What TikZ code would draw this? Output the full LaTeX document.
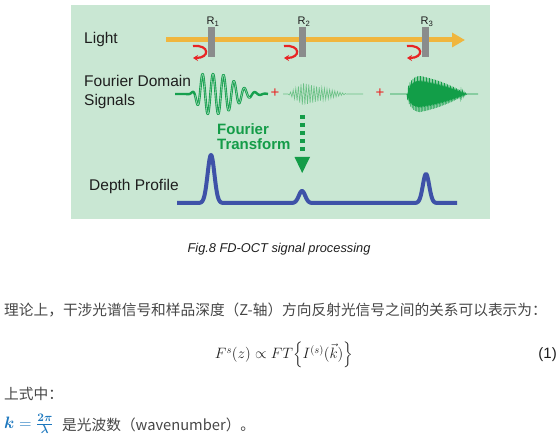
\RequirePackage{fix-cm}
\documentclass[tikz,border=0pt]{standalone}
\usepackage{amsmath}
\usepackage{bm}
\usepackage[no-math]{fontspec}
\setmainfont{Liberation Sans}
\newfontfamily\cjk{Noto Sans CJK SC}
\usetikzlibrary{arrows.meta}
\definecolor{bgmint}{RGB}{201,231,211}
\definecolor{lightorange}{RGB}{240,182,62}
\definecolor{bargray}{RGB}{138,140,140}
\definecolor{curlred}{RGB}{232,36,36}
\definecolor{wavegreen}{RGB}{22,160,78}
\definecolor{wavelight}{RGB}{105,192,132}
\definecolor{wavedark}{RGB}{18,158,72}
\definecolor{ftgreen}{RGB}{20,156,72}
\definecolor{depthblue}{RGB}{62,82,168}
\definecolor{kblue}{RGB}{30,120,190}
\definecolor{txt}{RGB}{30,30,30}
\definecolor{cjktxt}{RGB}{70,70,70}
\tikzset{
  lab/.style={font=\fontsize{15.5bp}{18bp}\selectfont, text=txt, inner sep=0pt},
  rlab/.style={font=\fontsize{11bp}{13bp}\selectfont, text=txt, inner sep=0pt},
  ftlab/.style={font=\fontsize{15bp}{18bp}\selectfont\bfseries, text=ftgreen, inner sep=0pt},
  barbox/.style={fill=bargray, draw=none, minimum width=7bp, minimum height=30bp, inner sep=0pt},
  curl/.style={draw=curlred, line width=2.2bp, -{Stealth[length=5bp,width=6bp]}},
  lightray/.style={draw=lightorange, line width=5bp, -{Triangle[length=13bp,width=14bp]}},
  wavea/.style={draw=wavegreen, line width=2.4bp, line join=round},
  waveahi/.style={draw=wavegreen!45!white, line width=0.6bp, line join=round},
  waveb/.style={draw=wavelight, line width=0.6bp},
  wavec/.style={draw=wavedark, line width=0.8bp},
  plussign/.style={font=\fontsize{15bp}{18bp}\selectfont, text=curlred, inner sep=0pt},
  depthline/.style={draw=depthblue, line width=4bp, line join=round},
  ftdots/.style={draw=ftgreen, line width=5bp, dash pattern=on 4.5bp off 3.5bp},
  captext/.style={font=\fontsize{12.8bp}{15bp}\selectfont\itshape, text=txt, inner sep=0pt},
  cjktext/.style={font=\fontsize{14.7bp}{18bp}\selectfont\cjk, text=cjktxt, inner sep=0pt},
  eqtext/.style={font=\fontsize{15bp}{18bp}\selectfont, text=txt, inner sep=0pt},
  ktext/.style={font=\fontsize{16.5bp}{19bp}\selectfont, text=kblue, inner sep=0pt}
}
\begin{document}
\begin{tikzpicture}[x=1bp,y=-1bp]
\useasboundingbox (0,0) rectangle (560,445);
% panel
\fill[bgmint] (71,5) rectangle (490,219);
% light ray
\coordinate (raystart) at (166,40);
\coordinate (rayend) at (465,40);
\draw[lightray] (raystart) -- (rayend);
\node[lab, anchor=base west] (light) at (84,44) {Light};
% reflectors
\node[barbox] (bar1) at (211.5,42) {};
\node[barbox] (bar2) at (302.5,42) {};
\node[barbox] (bar3) at (425.5,42) {};
\node[rlab, anchor=base] (rl1) at (213,25) {R\textsubscript{1}};
\node[rlab, anchor=base] (rl2) at (304,25) {R\textsubscript{2}};
\node[rlab, anchor=base] (rl3) at (427,25) {R\textsubscript{3}};
\foreach \L in {208,299,422}{
  \draw[curl] ({\L-15},46) .. controls ({\L+2},44.5) and ({\L+2},58) .. ({\L-15},58);
}
% Fourier domain signals
\node[lab, anchor=base west] (fd1) at (84,87) {Fourier Domain};
\node[lab, anchor=base west] (fd2) at (84,105.5) {Signals};
\draw[wavea] plot[domain=175:268, samples=360]
  (\x, {94 - ifthenelse(\x<203, 20*exp(-min(((\x-203)/7)^2,30)), ifthenelse(\x<218, 20, 20*exp(-min(((\x-218)/24)^2,30))))*cos(34.3*(\x-213))});
\draw[waveahi] plot[domain=195:250, samples=260]
  (\x, {94 - ifthenelse(\x<203, 20*exp(-min(((\x-203)/7)^2,30)), ifthenelse(\x<218, 20, 20*exp(-min(((\x-218)/24)^2,30))))*cos(34.3*(\x-213))});
\node[plussign] (plus1) at (275,93) {+};
\draw[waveb] (283,94) -- plot[domain=288:347.8, samples=47]
  (\x, {94 - ifthenelse(\x<303, 11*(\x-288)/15, max(0, 11*(347-\x)/44))*cos(138.46*(\x-288))}) -- (363,94);
\node[plussign] (plus2) at (380,93) {+};
\draw[wavec] (390,94) -- plot[domain=407:467, samples=81]
  (\x, {94 - ifthenelse(\x<420, 18*sqrt(max(0,1-((420-\x)/13)^2)), 18*max(0,1-(\x-420)/47)*(1+0.5*(\x-420)/47))*cos(240*(\x-407))}) -- (478,94);
% Fourier transform arrow
\node[ftlab, anchor=base west] (ft1) at (217,134.5) {Fourier};
\node[ftlab, anchor=base west] (ft2) at (217,150) {Transform};
\coordinate (ftstart) at (302.2,115);
\coordinate (ftend) at (302.2,154);
\draw[ftdots] (ftstart) -- (ftend);
\fill[ftgreen] (294.5,157) -- (310,157) -- (302.2,173) -- cycle;
% depth profile
\node[lab, anchor=base west] (depth) at (89,191) {Depth Profile};
\draw[depthline] plot[domain=177:457, samples=561]
  (\x, {203 - 48*exp(-min(((\x-211)/4.8)^2,30)) - 12*exp(-min(((\x-302)/4.5)^2,30)) - 29*exp(-min(((\x-426)/4.5)^2,30))});
% caption
\node[captext, anchor=base] (caption) at (279,253) {Fig.8 FD-OCT signal processing};
% text below
\node[cjktext, anchor=base west] (para1) at (4,315.5) {理论上，干涉光谱信号和样品深度（Z-轴）方向反射光信号之间的关系可以表示为：};
\node[eqtext] (eq) at (284,355) {$F^{s}(z)\propto FT\Bigl\{I^{(s)}(\vec{k})\Bigr\}$};
\node[eqtext, anchor=east] (eqnum) at (557,355) {(1)};
\node[cjktext, anchor=base west] (para2) at (4,399.5) {上式中：};
\node[ktext, anchor=west] (kdef) at (4,424) {$\bm{k}=\frac{\bm{2\pi}}{\bm{\lambda}}$};
\node[cjktext, anchor=base west] (para3) at (62,430) {是光波数（wavenumber）。};
\end{tikzpicture}
\end{document}
